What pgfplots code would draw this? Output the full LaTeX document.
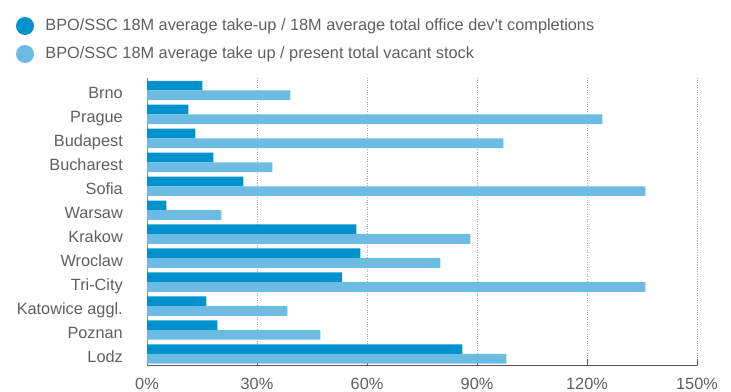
\documentclass[border=0pt]{standalone}
\usepackage{fontspec}
\setmainfont{Liberation Sans}
\usepackage{pgfplots}
\pgfplotsset{compat=1.18}
\definecolor{c1}{HTML}{0092CF}
\definecolor{c2}{HTML}{6CBBE3}
\definecolor{txt}{HTML}{5F5F5F}
\definecolor{axl}{HTML}{555555}
\begin{document}
\begin{tikzpicture}
\useasboundingbox (-147bp,-27bp) rectangle (584bp,365bp);
\begin{axis}[
  scale only axis, width=550bp, height=287bp,
  xbar, bar width=9.7bp,
  xmin=0, xmax=150, ymin=-0.46, ymax=11.52,
  xtick={0,30,...,150},
  xticklabel={\pgfmathprintnumber{\tick}\%},
  ytick={0,...,11},
  yticklabels={Lodz,Poznan,Katowice aggl.,Tri-City,Wroclaw,Krakow,Warsaw,Sofia,Bucharest,Budapest,Prague,Brno},
  axis x line*=bottom, axis y line*=left,
  x axis line style={draw=axl, line width=0.9bp},
  y axis line style={draw=gray, line width=0.9bp},
  xmajorgrids, major x grid style={dotted, draw=gray!70, line width=0.5bp},
  tick align=inside, major tick length=5.5bp,
  xtick style={draw=axl, line width=0.8bp},
  ytick style={draw=none},
  /pgf/number format/assume math mode=true,
  every tick label/.append style={font=\fontsize{16.3bp}{19bp}\selectfont, text=txt},
  yticklabel style={anchor=base east, inner sep=0pt, xshift=-24bp, yshift=-8.5bp},
  xticklabel style={anchor=base, inner sep=0pt, yshift=-24.3bp},
  legend style={at={(0,1)}, anchor=north west, xshift=-131bp, yshift=61bp,
    draw=none, fill=none, inner sep=0pt, outer sep=0pt, row sep=10bp, column sep=11.5bp,
    font=\fontsize{16.3bp}{19bp}\selectfont, text=txt,
    nodes={inner sep=0pt, text height=13bp, text depth=4bp}},
  legend cell align=left,
]
\addplot[fill=c1, draw=none, bar shift=4.85bp,
  legend image code/.code={\fill[c1] (9bp,0bp) circle (9bp);}]
  coordinates {(15.1,11) (11.3,10) (13.2,9) (18.1,8) (26.3,7) (5.3,6)
               (57.1,5) (58.2,4) (53.2,3) (16.2,2) (19.2,1) (86.0,0)};
\addlegendentry{BPO/SSC 18M average take-up / 18M average total office dev’t completions}
\addplot[fill=c2, draw=none, bar shift=-4.85bp,
  legend image code/.code={\fill[c2] (9bp,0bp) circle (9bp);}]
  coordinates {(39.1,11) (124.2,10) (97.2,9) (34.2,8) (135.9,7) (20.3,6)
               (88.2,5) (80.0,4) (135.9,3) (38.3,2) (47.3,1) (98.0,0)};
\addlegendentry{BPO/SSC 18M average take up / present total vacant stock}
\end{axis}
\end{tikzpicture}
\end{document}
